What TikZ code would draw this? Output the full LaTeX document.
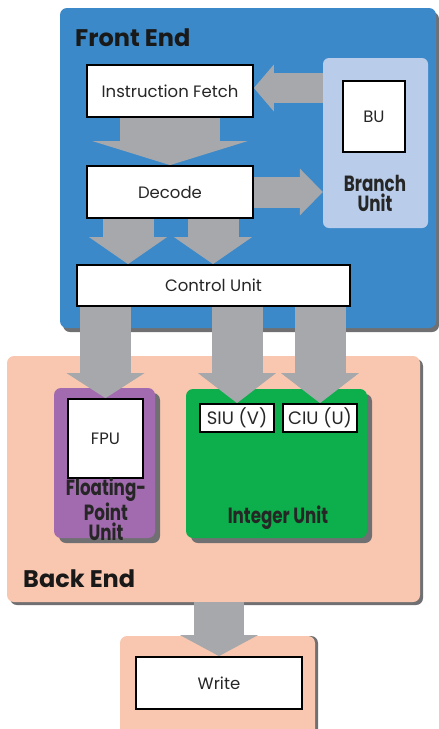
\documentclass[tikz,border=0pt]{standalone}
\usepackage{fontspec}
\setmainfont{Poppins}
\newfontfamily\condfont{Poppins}[FakeStretch=0.76]
\usetikzlibrary{arrows.meta,shadows}
\definecolor{feblue}{HTML}{3B89C9}
\definecolor{bulight}{HTML}{B9CDEB}
\definecolor{arrowgray}{HTML}{A6A8AB}
\definecolor{peach}{HTML}{F9C7B0}
\definecolor{fppurple}{HTML}{A36BAF}
\definecolor{iugreen}{HTML}{0CAF4B}
\definecolor{shadowgray}{HTML}{707072}
\pgfdeclarelayer{bg}
\pgfdeclarelayer{arr}
\pgfsetlayers{bg,arr,main}
\tikzset{
  panel/.style={rounded corners=7pt, inner sep=0pt, minimum width=#1},
  solidshadow/.style 2 args={drop shadow={shadow xshift=#1, shadow yshift=-#2, fill=shadowgray, opacity=1}},
  whitebox/.style={draw=black, line width=1.8pt, fill=white, inner sep=0pt, font=\fontsize{16.5}{19}\selectfont, text=black!85},
  smallbox/.style={whitebox, font=\fontsize{18}{20}\selectfont},
  fat/.style n args={3}{draw=arrowgray, line width=#1, -{Triangle[width=#2, length=#3, line width=0pt]}},
  headlabel/.style={font=\fontsize{24}{26}\selectfont\bfseries, text=black!90, anchor=west, inner sep=0pt},
  condlabel/.style={font=\condfont\bfseries\fontsize{22}{20}\selectfont, text=black!85, align=center, inner sep=0pt}
}
\begin{document}
\begin{tikzpicture}[x=1pt,y=-1pt]
\useasboundingbox (0,0) rectangle (439,729);
\begin{pgfonlayer}{bg}
  \fill[white] (0,0) rectangle (439,729);
  \node[panel=376pt, minimum height=320pt, fill=feblue, solidshadow={3pt}{4pt}] (fe) at (248,168) {};
  \node[panel=105pt, minimum height=170pt, fill=bulight, rounded corners=6pt] (bup) at (375.5,143) {};
  \node[panel=413pt, minimum height=246pt, fill=peach, solidshadow={3pt}{3pt}] (be) at (213.5,479) {};
  \node[panel=101pt, minimum height=150pt, fill=fppurple, solidshadow={5pt}{5pt}] (fpp) at (104.5,463) {};
  \node[panel=181pt, minimum height=149pt, fill=iugreen, solidshadow={5pt}{5pt}] (iu) at (276.5,463.5) {};
  \node[panel=195pt, minimum height=104pt, fill=peach, solidshadow={3pt}{0pt}] (wp) at (217.5,688) {};
\end{pgfonlayer}
% white boxes
\node[whitebox, minimum width=166pt, minimum height=52pt] (if) at (170,91) {Instruction Fetch};
\node[whitebox, minimum width=166pt, minimum height=52pt] (dec) at (170,192) {Decode};
\node[whitebox, minimum width=273pt, minimum height=41pt] (cu) at (213.5,285.5) {Control Unit};
\node[whitebox, minimum width=62pt, minimum height=71pt] (bu) at (374,116.5) {BU};
\node[whitebox, minimum width=75pt, minimum height=79pt] (fpu) at (105.5,438.5) {FPU};
\node[smallbox, minimum width=74pt, minimum height=28pt] (siu) at (237,418) {SIU (V)};
\node[smallbox, minimum width=74pt, minimum height=28pt] (ciu) at (320,418) {CIU (U)};
\node[whitebox, minimum width=166pt, minimum height=52pt] (wr) at (219,683) {Write};
% labels
\node[headlabel] (felabel) at (75,38) {Front End};
\node[headlabel] (belabel) at (23,579) {Back End};
\node[condlabel] (bulabel) at (375,193) {Branch\\Unit};
\node[condlabel] (fplabel) at (106,509) {Floating-\\Point\\Unit};
\node[condlabel] (iulabel) at (278,518) {Integer Unit};
% arrows
\begin{pgfonlayer}{arr}
  \draw[fat={30pt}{47pt}{20pt}] (bup.west |- 0,88) -- (if.east |- 0,88);
  \draw[fat={100pt}{155pt}{24pt}] (if.south) -- (dec.north);
  \draw[fat={31pt}{47pt}{23pt}] (dec.east) -- (bup.west |- dec.east);
  \draw[fat={51pt}{78pt}{27pt}] ([xshift=-42pt]dec.south) -- ([xshift=-42pt]dec.south |- cu.north);
  \draw[fat={51pt}{78pt}{27pt}] ([xshift=43pt]dec.south) -- ([xshift=43pt]dec.south |- cu.north);
  \draw[fat={51pt}{78pt}{25pt}] (fpu.north |- cu.south) -- (fpu.north);
  \draw[fat={51pt}{78pt}{30pt}] (siu.north |- cu.south) -- (siu.north);
  \draw[fat={51pt}{78pt}{30pt}] (ciu.north |- cu.south) -- (ciu.north);
  \draw[fat={50pt}{78pt}{21pt}] (wr.north |- be.south) -- (wr.north);
\end{pgfonlayer}
\end{tikzpicture}
\end{document}
